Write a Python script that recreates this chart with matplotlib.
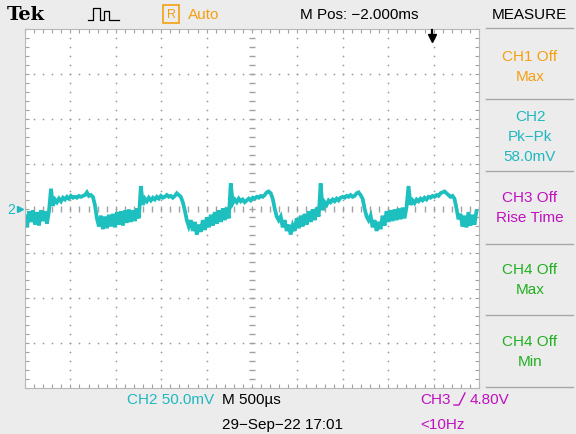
import numpy as np
import matplotlib
matplotlib.use("Agg")
import matplotlib.pyplot as plt
from matplotlib.lines import Line2D

# Scope capture: CH2, 50 mV/div, 500 us/div, samples every ~22 us
sample_step_ms = 0.022
ch2_mv = [
    -9, -21, -3, -15, -2, -18, -4, -19, -2, -14, -3, -17, -3,
    22,
    3, 10, 7, 11, 8, 12, 10, 13, 11, 14, 12, 13, 12, 14, 13, 14, 15, 18, 14, 15, 13,
    4, -11,
    -20, -8, -23, -9, -22, -7, -20, -6, -21, -4, -18, -3, -19, -2, -16, -1, -15, -2, -14, 0, -11,
    25,
    4, 11, 8, 12, 9, 12, 10, 13, 11, 14, 12, 13, 15, 13, 14, 12, 14, 17, 15, 13, 7,
    -2, -13, -20, -13, -25, -15, -29, -18, -26, -13, -24, -10, -21, -7, -19, -4, -17, -2, -15, 0, -13, 1, -11,
    28,
    6, 10, 7, 11, 8, 10, 7, 9, 11, 9, 12, 11, 13, 12, 14, 13, 15, 18, 19, 17, 11, 0, -9,
    -13, -9, -21, -13, -25, -18, -29, -19, -25, -11, -22, -8, -20, -6, -18, -3, -15, -1, -13, 1, -9,
    28,
    -2, 7, 4, 9, 7, 10, 8, 11, 9, 12, 13, 12, 14, 13, 15, 13, 14, 17, 18, 15, 11, 0, -9,
    -13, -8, -21, -13, -25, -15, -23, -8, -19, -3, -15, -2, -14, -1, -13, 0, -12, 1, -11, 2,
    25,
    4, 9, 6, 10, 8, 11, 9, 12, 10, 13, 12, 14, 13, 15, 14, 17, 18, 19, 17, 15, 13, 14, 11, 0, -12,
    -6, -20, -8, -21, -4, -19, -7, -18, -3,
]
t_ms = np.arange(len(ch2_mv)) * sample_step_ms

ms_per_div = 0.5
mv_per_div = 50
n_xdiv, n_ydiv = 10, 8

orange = "#f5a010"
cyan = "#1fb8c0"
magenta = "#c010c0"
green = "#20b020"

measure_rows = [
    (["CH1 Off", "Max"], orange),
    (["CH2", "Pk\u2212Pk", "58.0mV"], cyan),
    (["CH3 Off", "Rise Time"], magenta),
    (["CH4 Off", "Max"], green),
    (["CH4 Off", "Min"], green),
]

bg = "#ececec"
grid_col = "#a0a0a0"
trace_col = "#1ebfbf"
font = ["Liberation Sans", "DejaVu Sans"]


def fx(px):
    return px / 576


def fy(py):
    return 1 - py / 435


fig = plt.figure(figsize=(5.76, 4.35), dpi=100, facecolor=bg)
ax = fig.add_axes([fx(25), fy(389), 454 / 576, 359 / 435])
ax.set_facecolor("white")

xmax = n_xdiv * ms_per_div
ymax = n_ydiv / 2 * mv_per_div
ax.set_xlim(0, xmax)
ax.set_ylim(-ymax, ymax)

# dotted graticule
sub_x = np.arange(0, xmax + 1e-9, ms_per_div / 5)
sub_y = np.arange(-ymax, ymax + 1e-9, mv_per_div / 5)
for k in range(1, n_xdiv):
    x = k * ms_per_div
    if k == n_xdiv // 2:
        ax.plot(np.full_like(sub_y, x), sub_y, ls="none", marker="_", ms=5, mew=1, color=grid_col)
    else:
        ax.plot(np.full_like(sub_y, x), sub_y, ls="none", marker="o", ms=1.3, mew=0, color=grid_col)
for k in range(1, n_ydiv):
    y = -ymax + k * mv_per_div
    if k == n_ydiv // 2:
        ax.plot(sub_x, np.full_like(sub_x, y), ls="none", marker="|", ms=5, mew=1, color=grid_col)
    else:
        ax.plot(sub_x, np.full_like(sub_x, y), ls="none", marker="o", ms=1.3, mew=0, color=grid_col)

ax.set_xticks([])
ax.set_yticks([])
ax.set_xticks(sub_x, minor=True)
ax.set_yticks(sub_y, minor=True)
ax.tick_params(which="minor", direction="in", length=3, width=0.8, color=grid_col,
               top=True, right=True, labelbottom=False, labelleft=False)
for s in ax.spines.values():
    s.set_color("#b8b8b8")
    s.set_linewidth(0.8)

ax.plot(t_ms, ch2_mv, color=trace_col, lw=2.7, solid_joinstyle="miter")

# trigger position arrow
fig.add_artist(Line2D([fx(432), fx(432)], [fy(31), fy(38)], color="black", lw=1.6))
fig.add_artist(Line2D([fx(432)], [fy(39)], marker="v", ms=6, color="black", ls="none"))

# ground marker for CH2
fig.text(fx(11), fy(210), "2", color=cyan, fontsize=10, family=font, ha="center", va="center")
fig.add_artist(Line2D([fx(20)], [fy(210)], marker=">", ms=5, color=cyan, ls="none"))

# header
fig.text(fx(7), fy(15), "Tek", fontsize=14, fontweight="bold", family="DejaVu Serif",
         ha="left", va="center")
icon_x = [88, 93, 93, 100, 100, 104, 104, 109, 109, 119]
icon_y = [21, 21, 9, 9, 21, 21, 12, 12, 21, 21]
fig.add_artist(Line2D([fx(v) for v in icon_x], [fy(v) for v in icon_y], color="black", lw=0.9))
fig.text(fx(171), fy(15), "R", color=orange, fontsize=9, family=font, ha="center", va="center",
         bbox=dict(boxstyle="square,pad=0.25", fc="none", ec=orange, lw=1.2))
fig.text(fx(188), fy(15), "Auto", color=orange, fontsize=11, family=font, ha="left", va="center")
fig.text(fx(300), fy(15), "M Pos: \u22122.000ms", fontsize=11, family=font, ha="left", va="center")
fig.text(fx(529), fy(15), "MEASURE", fontsize=11, family=font, ha="center", va="center")

# measurement panel
for y in [29, 100, 172, 245, 316, 388]:
    fig.add_artist(Line2D([fx(486), fx(573)], [fy(y), fy(y)], color="#a8a8a8", lw=1))
row_mid = [67, 137, 208, 280, 352]
for (lines, col), mid in zip(measure_rows, row_mid):
    n = len(lines)
    for j, s in enumerate(lines):
        yy = mid + (j - (n - 1) / 2) * 20
        fig.text(fx(530), fy(yy), s, color=col, fontsize=11, family=font, ha="center", va="center")

# footer
fig.text(fx(127), fy(400), "CH2 50.0mV", color=cyan, fontsize=11, family=font, ha="left", va="center")
fig.text(fx(222), fy(400), "M 500\u00b5s", fontsize=11, family=font, ha="left", va="center")
fig.text(fx(420), fy(400), "CH3", color=magenta, fontsize=11, family=font, ha="left", va="center")
edge_x = [454, 459, 465]
edge_y = [406, 406, 394]
fig.add_artist(Line2D([fx(v) for v in edge_x], [fy(v) for v in edge_y], color=magenta, lw=1))
fig.text(fx(470), fy(400), "4.80V", color=magenta, fontsize=11, family=font, ha="left", va="center")
fig.text(fx(222), fy(425), "29\u2212Sep\u221222 17:01", fontsize=11, family=font, ha="left", va="center")
fig.text(fx(420), fy(425), "<10Hz", color=magenta, fontsize=11, family=font, ha="left", va="center")

fig.savefig("out.png", dpi=100, facecolor=bg)
